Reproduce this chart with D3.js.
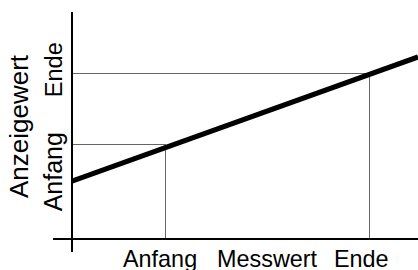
<!DOCTYPE html>
<html>
<head>
<meta charset="utf-8">
<script src="https://cdn.jsdelivr.net/npm/d3@7"></script>
<style>
  body { margin: 0; background: #fff; }
  svg text { font-family: "Liberation Sans", Arial, sans-serif; fill: #000; }
</style>
</head>
<body>
<div id="chart"></div>
<script>
// Messwert (x) und Anzeigewert (y), in Prozent der Achsen
const messwertMarken = [26.9, 85.8];        // Anfang, Ende
const anzeigeMarken = [41.6, 73.0];         // Anfang, Ende
const kennlinie = [[0, 25.2], [100, 80.1]]; // Kennlinie von Achse bis Rand
const xTexte = ["Anfang", "Messwert", "Ende"];
const yTexte = ["Anzeigewert", "Anfang", "Ende"];

const width = 418, height = 270;

const svg = d3.select("#chart").append("svg")
  .attr("width", width)
  .attr("height", height);

const x = d3.scaleLinear().domain([0, 100]).range([72, 418]);
const y = d3.scaleLinear().domain([0, 100]).range([238, 12]);

// Hilfslinien (grau)
const hilfe = svg.append("g")
  .attr("stroke", "#666")
  .attr("stroke-width", 1)
  .attr("shape-rendering", "crispEdges");

messwertMarken.forEach((m, i) => {
  const a = anzeigeMarken[i];
  hilfe.append("line")
    .attr("x1", x(0)).attr("x2", x(m))
    .attr("y1", Math.round(y(a)) + 0.5).attr("y2", Math.round(y(a)) + 0.5);
  hilfe.append("line")
    .attr("x1", Math.round(x(m)) + 0.5).attr("x2", Math.round(x(m)) + 0.5)
    .attr("y1", y(a)).attr("y2", y(0));
});

// Achsen
svg.append("line")
  .attr("x1", x(0)).attr("x2", x(0))
  .attr("y1", y(100)).attr("y2", y(0) + 14)
  .attr("stroke", "#000").attr("stroke-width", 2);
svg.append("line")
  .attr("x1", x(0) - 19).attr("x2", x(100))
  .attr("y1", y(0) + 1).attr("y2", y(0) + 1)
  .attr("stroke", "#000").attr("stroke-width", 2);

// Kennlinie
svg.append("path")
  .datum(kennlinie)
  .attr("fill", "none")
  .attr("stroke", "#000")
  .attr("stroke-width", 5)
  .attr("d", d3.line().x(d => x(d[0])).y(d => y(d[1])));

// Beschriftung unten
const xPos = [123, 217, 334];
xTexte.forEach((t, i) => {
  svg.append("text")
    .attr("x", xPos[i])
    .attr("y", 266.5)
    .attr("font-size", 23.4)
    .text(t);
});

// Beschriftung links (gedreht)
const yLabel = [
  { x: 28, y: 126.5, s: 26 },
  { x: 61.5, y: 171.7, s: 25 },
  { x: 61.5, y: 69.7, s: 23.5 }
];
yTexte.forEach((t, i) => {
  svg.append("text")
    .attr("transform", `translate(${yLabel[i].x},${yLabel[i].y}) rotate(-90)`)
    .attr("text-anchor", "middle")
    .attr("font-size", yLabel[i].s)
    .text(t);
});
</script>
</body>
</html>
